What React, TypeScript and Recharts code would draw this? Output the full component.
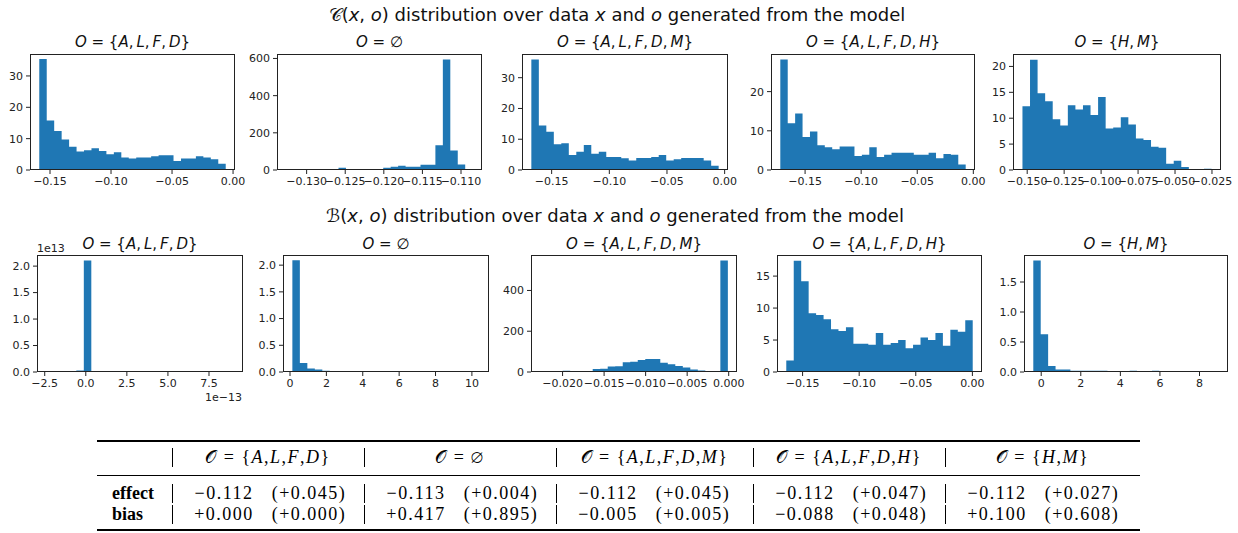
import React from "react";
import { Area, AreaChart, XAxis, YAxis } from "recharts";

// ---- histogram bin counts (25 bins each) ----
// C(x, o) row
const cAlfd = [35.4, 15.8, 12.4, 9.7, 7.4, 5.9, 6.3, 6.9, 6.1, 5.0, 5.7, 4.0, 3.7, 4.0, 4.0, 4.4, 4.7, 4.7, 2.9, 3.7, 3.7, 4.4, 4.0, 3.4, 2.0];
const cNone = [5, 5, 5, 5, 5, 0, 5, 12, 5, 5, 5, 5, 5, 12, 18, 23, 18, 18, 28, 28, 133, 595, 105, 29, 5];
const cAlfdm = [35.9, 14.5, 12.4, 8.4, 8.7, 4.9, 5.9, 8.1, 5.3, 5.9, 4.2, 4.2, 3.8, 3.1, 3.9, 3.9, 4.2, 4.9, 3.1, 3.5, 3.9, 3.9, 3.9, 3.1, 1.4];
const cAlfdh = [28.2, 11.9, 14.4, 8.4, 9.8, 6.3, 5.8, 5.3, 6.0, 6.0, 3.6, 3.9, 5.8, 3.3, 3.9, 4.4, 4.4, 4.4, 3.9, 3.9, 4.4, 3.0, 4.1, 3.9, 1.4];
const cHm = [12.3, 21.3, 14.8, 13.3, 9.8, 8.6, 12.5, 11.7, 12.5, 10.6, 14.1, 8.0, 8.2, 10.2, 8.8, 6.1, 5.8, 4.5, 4.3, 1.2, 1.8, 0.6, 0.2, 0, 0.25];
// B(x, o) row
const bAlfd = [0, 0, 0, 0, 0.03, 2.107, 0.02, 0.02, 0, 0, 0, 0, 0, 0, 0, 0, 0, 0, 0, 0, 0, 0, 0, 0, 0]; // x 1e13
const bNone = [2.09, 0.17, 0.065, 0.045, 0.025, 0.02, 0.02, 0.02, 0, 0.02, 0, 0, 0, 0, 0, 0, 0, 0, 0, 0, 0, 0, 0, 0, 0.02];
const bAlfdm = [0, 0, 0, 6, 0, 4, 5, 15, 16, 27, 28, 48, 50, 59, 64, 64, 45, 38, 29, 22, 12, 7, 0, 0, 547];
const bAlfdh = [1.8, 17.4, 14.2, 9.2, 8.9, 8.25, 6.7, 6.4, 7.0, 4.4, 4.4, 4.25, 6.1, 4.25, 4.55, 5.0, 3.7, 4.25, 5.4, 5.0, 6.1, 4.1, 6.6, 6.3, 8.1];
const bHm = [1.86, 0.63, 0.1, 0.04, 0.04, 0.02, 0.02, 0.02, 0.02, 0.02, 0, 0, 0, 0.02, 0, 0, 0.02, 0, 0, 0, 0, 0, 0, 0, 0];

// bin ranges [first edge, last edge]
const cAlfdRange = [-0.1588, -0.006];
const cNoneRange = [-0.13263, -0.10849];
const cAlfdmRange = [-0.1676, -0.0052];
const cAlfdhRange = [-0.1721, -0.0068];
const cHmRange = [-0.1532, -0.0253];
const bAlfdRange = [-2.4, 9.0];
const bNoneRange = [0.13, 10.42];
const bAlfdmRange = [-0.0227, -0.0001];
const bAlfdhRange = [-0.1644, 0.0003];
const bHmRange = [-0.4, 8.97];

// tick labels
const ticks005 = [-0.15, -0.1, -0.05, 0];
const ticksNone = [-0.13, -0.125, -0.12, -0.115, -0.11];
const ticksHm = [-0.15, -0.125, -0.1, -0.075, -0.05, -0.025];
const ticksE13 = [-2.5, 0, 2.5, 5, 7.5];
const ticksBNone = [0, 2, 4, 6, 8, 10];
const ticksBAlfdm = [-0.02, -0.015, -0.01, -0.005, 0];
const ticksBHm = [0, 2, 4, 6, 8];

// table
const colSets = [["A", "L", "F", "D"], [], ["A", "L", "F", "D", "M"], ["A", "L", "F", "D", "H"], ["H", "M"]];
const effectVals = ["\u22120.112", "\u22120.113", "\u22120.112", "\u22120.112", "\u22120.112"];
const effectStd = ["(+0.045)", "(+0.004)", "(+0.045)", "(+0.047)", "(+0.027)"];
const biasVals = ["+0.000", "+0.417", "\u22120.005", "\u22120.088", "+0.100"];
const biasStd = ["(+0.000)", "(+0.895)", "(+0.005)", "(+0.048)", "(+0.608)"];

const BLUE = "#1f77b4";
const SANS = "'DejaVu Sans', sans-serif";
const SERIF = "'Liberation Serif', 'DejaVu Serif', serif";
const ML = 46;
const MR = 14;
const MT = 6;
const MB = 28;

function toSteps(range: number[], counts: number[]) {
  const w = (range[1] - range[0]) / counts.length;
  const pts = counts.map((c, i) => ({ x: range[0] + i * w, y: c }));
  pts.push({ x: range[1], y: counts[counts.length - 1] });
  return pts;
}

const fmt = (digits: number) => (v: number) => {
  const s = Math.abs(v) < 1e-12 ? (0).toFixed(digits) : v.toFixed(digits);
  return s.replace("-", "\u2212");
};

function MathSet({ letters, tight }: { letters: string[]; tight?: boolean }) {
  if (letters.length === 0) return <span>{"\u2205"}</span>;
  return (
    <span>
      {"{"}
      {letters.map((l, i) => (
        <span key={l}>
          <i>{l}</i>
          {i < letters.length - 1 ? (tight ? "," : ",\u2009") : ""}
        </span>
      ))}
      {"}"}
    </span>
  );
}

// text placed by anchor point; wide fixed boxes avoid shrink-to-fit clamping
function Txt({ x, y, anchor = "middle", style, children }: any) {
  const W = 1000;
  const left = anchor === "middle" ? x - W / 2 : anchor === "end" ? x - W : x;
  const align = anchor === "middle" ? "center" : anchor === "end" ? "right" : "left";
  return (
    <div
      style={{
        position: "absolute",
        left,
        top: y,
        width: W,
        textAlign: align,
        transform: "translateY(-50%)",
        whiteSpace: "nowrap",
        lineHeight: 1,
        pointerEvents: "none",
        ...style,
      }}
    >
      {children}
    </div>
  );
}

interface HistProps {
  box: number[];
  letters: string[];
  counts: number[];
  range: number[];
  xDomain: number[];
  xTicks: number[];
  xDigits: number;
  yDomain: number[];
  yTicks: number[];
  yDigits: number;
  titleGap: number;
  sci?: boolean;
}

function Hist(p: HistProps) {
  const [left, top, w, h] = p.box;
  const data = toSteps(p.range, p.counts);
  const tickStyle = { fontSize: 11, fill: "#222", fontFamily: SANS };
  return (
    <div style={{ position: "absolute", left: left - ML, top: top - MT, width: w + ML + MR, height: h + MT + MB }}>
      <AreaChart width={w + ML + MR} height={h + MT + MB} data={data} margin={{ top: MT, right: MR, left: 0, bottom: 0 }}>
        <XAxis
          type="number"
          dataKey="x"
          domain={p.xDomain}
          ticks={p.xTicks}
          interval={0}
          allowDataOverflow
          axisLine={false}
          tickLine={{ stroke: "#222" }}
          tickSize={4}
          tickMargin={3}
          height={MB}
          tick={tickStyle}
          tickFormatter={fmt(p.xDigits)}
        />
        <YAxis
          type="number"
          domain={p.yDomain}
          ticks={p.yTicks}
          interval={0}
          allowDataOverflow
          axisLine={false}
          tickLine={{ stroke: "#222" }}
          tickSize={4}
          tickMargin={3}
          width={ML}
          tick={tickStyle}
          tickFormatter={fmt(p.yDigits)}
        />
        <Area
          type="stepAfter"
          dataKey="y"
          stroke="none"
          fill={BLUE}
          fillOpacity={1}
          dot={false}
          activeDot={false}
          isAnimationActive={false}
        />
      </AreaChart>
      <div
        style={{
          position: "absolute",
          left: ML,
          top: MT,
          width: w,
          height: h,
          border: "1px solid #222",
          boxSizing: "border-box",
        }}
      />
      <Txt x={ML + w / 2} y={MT - p.titleGap} style={{ fontFamily: SANS, fontSize: 15, color: "#111" }}>
        <i>O</i> = <MathSet letters={p.letters} />
      </Txt>
      {p.sci && (
        <>
          <Txt x={ML} y={MT - 7} anchor="start" style={{ fontFamily: SANS, fontSize: 11, color: "#222" }}>
            1e13
          </Txt>
          <Txt x={ML + w - 1} y={MT + h + 25} anchor="end" style={{ fontFamily: SANS, fontSize: 11, color: "#222" }}>
            1e{"\u2212"}13
          </Txt>
        </>
      )}
    </div>
  );
}

const panels: HistProps[] = [
  { box: [30, 54, 205, 116], letters: colSets[0], counts: cAlfd, range: cAlfdRange, xDomain: [-0.1664, 0.0016], xTicks: ticks005, xDigits: 2, yDomain: [0, 37], yTicks: [0, 10, 20, 30], yDigits: 0, titleGap: 12 },
  { box: [277, 54, 205, 116], letters: colSets[1], counts: cNone, range: cNoneRange, xDomain: [-0.13384, -0.10728], xTicks: ticksNone, xDigits: 3, yDomain: [0, 624], yTicks: [0, 200, 400, 600], yDigits: 0, titleGap: 12 },
  { box: [522, 54, 206, 116], letters: colSets[2], counts: cAlfdm, range: cAlfdmRange, xDomain: [-0.1757, 0.0029], xTicks: ticks005, xDigits: 2, yDomain: [0, 37.7], yTicks: [0, 10, 20, 30], yDigits: 0, titleGap: 12 },
  { box: [771, 54, 204, 116], letters: colSets[3], counts: cAlfdh, range: cAlfdhRange, xDomain: [-0.1804, 0.0015], xTicks: ticks005, xDigits: 2, yDomain: [0, 29.6], yTicks: [0, 10, 20], yDigits: 0, titleGap: 12 },
  { box: [1013, 54, 208, 116], letters: colSets[4], counts: cHm, range: cHmRange, xDomain: [-0.1596, -0.0189], xTicks: ticksHm, xDigits: 3, yDomain: [0, 22.4], yTicks: [0, 5, 10, 15, 20], yDigits: 0, titleGap: 12 },
  { box: [37, 255, 206, 117], letters: colSets[0], counts: bAlfd, range: bAlfdRange, xDomain: [-2.97, 9.57], xTicks: ticksE13, xDigits: 1, yDomain: [0, 2.21], yTicks: [0, 0.5, 1, 1.5, 2], yDigits: 1, titleGap: 11, sci: true },
  { box: [283, 255, 206, 117], letters: colSets[1], counts: bNone, range: bNoneRange, xDomain: [-0.385, 10.94], xTicks: ticksBNone, xDigits: 0, yDomain: [0, 2.19], yTicks: [0, 0.5, 1, 1.5, 2], yDigits: 1, titleGap: 11 },
  { box: [531, 255, 206, 117], letters: colSets[2], counts: bAlfdm, range: bAlfdmRange, xDomain: [-0.0238, 0.001], xTicks: ticksBAlfdm, xDigits: 3, yDomain: [0, 574], yTicks: [0, 200, 400], yDigits: 0, titleGap: 11 },
  { box: [777, 255, 205, 117], letters: colSets[3], counts: bAlfdh, range: bAlfdhRange, xDomain: [-0.1726, 0.0085], xTicks: ticks005, xDigits: 2, yDomain: [0, 18.3], yTicks: [0, 5, 10, 15], yDigits: 0, titleGap: 11 },
  { box: [1024, 255, 204, 117], letters: colSets[4], counts: bHm, range: bHmRange, xDomain: [-0.87, 9.44], xTicks: ticksBHm, xDigits: 0, yDomain: [0, 1.95], yTicks: [0, 0.5, 1, 1.5], yDigits: 1, titleGap: 11 },
];

// table column separators (x) and row centres (y)
const seps = [172, 364, 556, 753, 945];
const colRight = 1140;
const rowY = [457, 493, 514];

export default function App(): React.ReactElement {
  const supStyle = { fontFamily: SANS, fontSize: 18, color: "#111" };
  const cellStyle = { fontFamily: SERIF, fontSize: 18, letterSpacing: 1.5, color: "#000" };
  return (
    <div style={{ position: "absolute", left: 0, top: 0, width: 1238, height: 533, background: "#fff", overflow: "hidden" }}>
      <Txt x={617} y={15} style={supStyle}>
        {"\uD835\uDC9E"}(<i>x</i>, <i>o</i>) distribution over data <i>x</i> and <i>o</i> generated from the model
      </Txt>
      <Txt x={615} y={216} style={supStyle}>
        {"\u212C"}(<i>x</i>, <i>o</i>) distribution over data <i>x</i> and <i>o</i> generated from the model
      </Txt>
      {panels.map((p, i) => (
        <Hist key={i} {...p} />
      ))}

      {/* results table */}
      <div style={{ position: "absolute", left: 97, top: 440, width: 1043, height: 2, background: "#000" }} />
      <div style={{ position: "absolute", left: 97, top: 475, width: 1043, height: 1, background: "#000" }} />
      <div style={{ position: "absolute", left: 97, top: 529, width: 1043, height: 2, background: "#000" }} />
      {seps.map((s) =>
        rowY.map((y) => (
          <div key={`${s}-${y}`} style={{ position: "absolute", left: s, top: y - 9, width: 1, height: 19, background: "#000" }} />
        ))
      )}
      {colSets.map((letters, i) => {
        const right = i < seps.length - 1 ? seps[i + 1] : colRight;
        return (
          <Txt key={i} x={(seps[i] + right) / 2} y={rowY[0]} style={cellStyle}>
            {"\uD835\uDCAA"} = <MathSet letters={letters} tight />
          </Txt>
        );
      })}
      <Txt x={112} y={rowY[1]} anchor="start" style={{ ...cellStyle, letterSpacing: 0, fontWeight: "bold" }}>effect</Txt>
      <Txt x={112} y={rowY[2]} anchor="start" style={{ ...cellStyle, letterSpacing: 0, fontWeight: "bold" }}>bias</Txt>
      {seps.map((s, i) => (
        <React.Fragment key={`v${i}`}>
          <Txt x={s + 52} y={rowY[1]} style={cellStyle}>{effectVals[i]}</Txt>
          <Txt x={s + 137} y={rowY[1]} style={cellStyle}>{effectStd[i]}</Txt>
          <Txt x={s + 52} y={rowY[2]} style={cellStyle}>{biasVals[i]}</Txt>
          <Txt x={s + 137} y={rowY[2]} style={cellStyle}>{biasStd[i]}</Txt>
        </React.Fragment>
      ))}
    </div>
  );
}
